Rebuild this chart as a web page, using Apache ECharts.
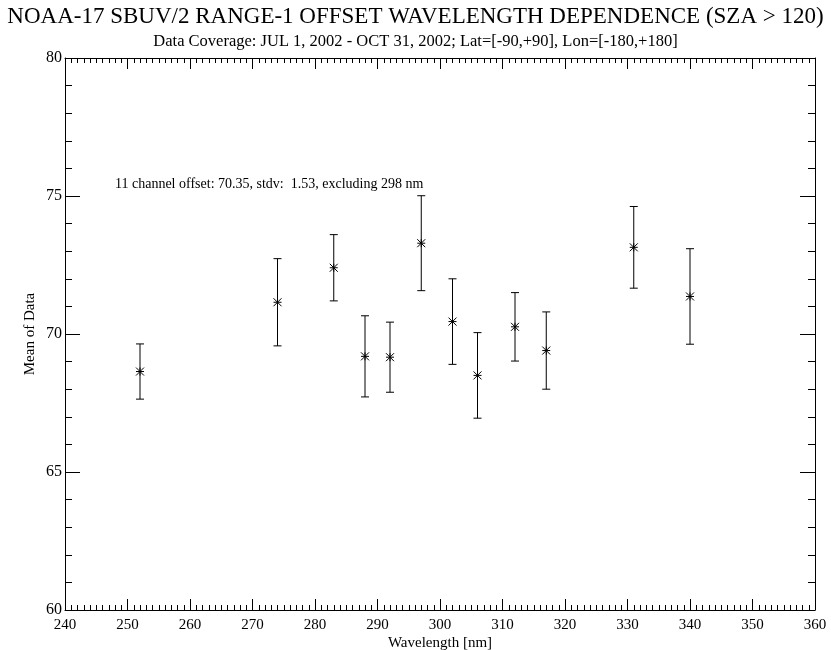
<!DOCTYPE html>
<html>
<head>
<meta charset="utf-8">
<script src="https://cdn.jsdelivr.net/npm/echarts@6/dist/echarts.min.js"></script>
<style>
  html, body { margin: 0; padding: 0; background: #fff; }
  #chart { width: 831px; height: 650px; }
</style>
</head>
<body>
<div id="chart"></div>
<script>
// channel wavelengths [nm], mean offset and standard deviation (error bar half-length)
const wavelength = [252, 274, 283, 288, 292, 297, 302, 306, 312, 317, 331, 340]
const meanValue = [68.64, 71.15, 72.40, 69.19, 69.16, 73.29, 70.45, 68.50, 70.26, 69.40, 73.14, 71.36]
const stdvValue = [1.00, 1.58, 1.20, 1.47, 1.27, 1.72, 1.55, 1.55, 1.24, 1.40, 1.48, 1.73]

const mainTitle = 'NOAA-17 SBUV/2 RANGE-1 OFFSET WAVELENGTH DEPENDENCE (SZA > 120)'
const subTitle = 'Data Coverage: JUL 1, 2002 - OCT 31, 2002; Lat=[-90,+90], Lon=[-180,+180]'
const noteText = '11 channel offset: 70.35, stdv:  1.53, excluding 298 nm'

const font = 'Liberation Serif'
const ink = '#000'

const points = wavelength.map((w, i) => [w, meanValue[i], stdvValue[i]])

function renderErrorStar(params, api) {
  const x = api.value(0)
  const m = api.value(1)
  const s = api.value(2)
  const c = api.coord([x, m])
  const hi = api.coord([x, m + s])
  const lo = api.coord([x, m - s])
  const cap = 4
  const r = 4
  const style = { stroke: ink, lineWidth: 1 }
  const line = (x1, y1, x2, y2) => ({ type: 'line', shape: { x1, y1, x2, y2 }, style })
  return {
    type: 'group',
    children: [
      line(c[0], hi[1], c[0], lo[1]),
      line(c[0] - cap, hi[1], c[0] + cap, hi[1]),
      line(c[0] - cap, lo[1], c[0] + cap, lo[1]),
      // asterisk
      line(c[0] - r, c[1], c[0] + r, c[1]),
      line(c[0] - r, c[1] - r, c[0] + r, c[1] + r),
      line(c[0] - r, c[1] + r, c[0] + r, c[1] - r),
      line(c[0], c[1] - r, c[0], c[1] + r)
    ]
  }
}

const axisLineStyle = { color: ink, width: 1 }

function xAxisCfg(position, showLabel) {
  return {
    type: 'value',
    position,
    min: 240,
    max: 360,
    interval: 10,
    axisLine: { show: true, onZero: false, lineStyle: axisLineStyle },
    axisTick: { show: true, inside: true, length: 11, lineStyle: axisLineStyle },
    minorTick: { show: true, splitNumber: 10, length: 5, lineStyle: axisLineStyle },
    splitLine: { show: false },
    axisLabel: { show: showLabel, color: ink, fontFamily: font, fontSize: 15, margin: 8 },
    name: showLabel ? 'Wavelength [nm]' : '',
    nameLocation: 'middle',
    nameMoveOverlap: false,
    nameGap: 33,
    nameTextStyle: { color: ink, fontFamily: font, fontSize: 15, verticalAlign: 'middle' }
  }
}

function yAxisCfg(position, showLabel) {
  return {
    type: 'value',
    position,
    min: 60,
    max: 80,
    interval: 5,
    axisLine: { show: true, onZero: false, lineStyle: axisLineStyle },
    axisTick: { show: true, inside: true, length: 15, lineStyle: axisLineStyle },
    minorTick: { show: true, splitNumber: 5, length: 7, lineStyle: axisLineStyle },
    splitLine: { show: false },
    axisLabel: { show: showLabel, color: ink, fontFamily: font, fontSize: 16, margin: 3 },
    name: showLabel ? 'Mean of Data' : '',
    nameLocation: 'middle',
    nameMoveOverlap: false,
    nameGap: 35,
    nameTextStyle: { color: ink, fontFamily: font, fontSize: 15, verticalAlign: 'middle' }
  }
}

const chart = echarts.init(document.getElementById('chart'))
chart.setOption({
  backgroundColor: '#fff',
  animation: false,
  title: [
    {
      text: mainTitle,
      left: 'center',
      top: 0,
      textStyle: { color: ink, fontFamily: font, fontSize: 23, fontWeight: 'normal' }
    },
    {
      text: subTitle,
      left: 'center',
      top: 28,
      textStyle: { color: ink, fontFamily: font, fontSize: 16.5, fontWeight: 'normal' }
    }
  ],
  graphic: [
    {
      type: 'text',
      left: 115,
      top: 177,
      style: { text: noteText, fill: ink, font: '14px "Liberation Serif"' }
    }
  ],
  grid: { left: 65, right: 16, top: 58, bottom: 40, outerBoundsMode: 'none' },
  xAxis: [xAxisCfg('bottom', true), xAxisCfg('top', false)],
  yAxis: [yAxisCfg('left', true), yAxisCfg('right', false)],
  series: [
    {
      type: 'custom',
      xAxisIndex: 0,
      yAxisIndex: 0,
      data: points,
      encode: { x: 0, y: 1 },
      renderItem: renderErrorStar
    }
  ]
})
</script>
</body>
</html>
